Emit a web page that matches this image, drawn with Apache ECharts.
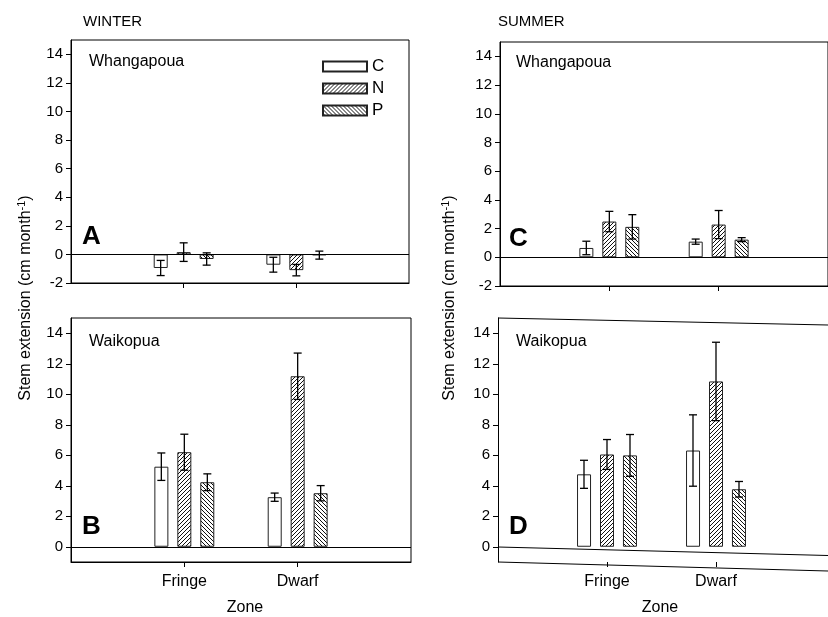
<!DOCTYPE html>
<html>
<head>
<meta charset="utf-8">
<script src="https://cdn.jsdelivr.net/npm/echarts@6/dist/echarts.min.js"></script>
<style>
    html, body { margin: 0; padding: 0; background: #fff; }
    #chart { width: 828px; height: 617px; }
</style>
</head>
<body>
<div id="chart"></div>
<script>
    const zones = ['Fringe', 'Dwarf']
    const treatments = ['C', 'N', 'P']
    const topTicks = [-2, 0, 2, 4, 6, 8, 10, 12, 14]
    const bottomTicks = [0, 2, 4, 6, 8, 10, 12, 14]

    // rows: C, N, P  -  columns: Fringe, Dwarf
    const winterWhangMean = [[-0.95, -0.72], [0.16, -1.1], [-0.32, -0.05]]
    const winterWhangErr = [[0.53, 0.52], [0.65, 0.4], [0.43, 0.28]]
    const winterWaikMean = [[5.25, 3.25], [6.2, 11.18], [4.23, 3.51]]
    const winterWaikErr = [[0.9, 0.27], [1.18, 1.52], [0.55, 0.5]]
    const summerWhangMean = [[0.65, 1.09], [2.49, 2.28], [2.12, 1.23]]
    const summerWhangErr = [[0.47, 0.18], [0.71, 0.98], [0.85, 0.14]]
    const summerWaikMean = [[4.75, 6.31], [6.05, 10.84], [5.99, 3.77]]
    const summerWaikErr = [[0.92, 2.34], [0.98, 2.57], [1.37, 0.51]]

    const font = '"Liberation Sans", Arial, sans-serif'

    // hatch fill for the N and P bars
    function hatch(dir) {
        let c = document.createElement('canvas')
        c.width = 4
        c.height = 4
        let g = c.getContext('2d')
        g.fillStyle = '#fff'
        g.fillRect(0, 0, 4, 4)
        g.strokeStyle = '#111'
        g.lineWidth = 1
        g.beginPath()
        if (dir > 0) {
            g.moveTo(-1, 5); g.lineTo(5, -1)
            g.moveTo(-1, 1); g.lineTo(1, -1)
            g.moveTo(3, 5); g.lineTo(5, 3)
        } else {
            g.moveTo(-1, -1); g.lineTo(5, 5)
            g.moveTo(3, -1); g.lineTo(5, 1)
            g.moveTo(-1, 3); g.lineTo(1, 5)
        }
        g.stroke()
        return { image: c, repeat: 'repeat' }
    }
    const fills = ['#fff', hatch(1), hatch(-1)]

    const panels = [
        { mean: winterWhangMean, err: winterWhangErr, min: -2, ticks: topTicks, labels: false, grid: { left: 71, top: 40, width: 338, height: 243 }, box: true },
        { mean: winterWaikMean, err: winterWaikErr, min: -1, ticks: bottomTicks, labels: true, grid: { left: 71, top: 318, width: 340, height: 244 }, box: true },
        { mean: summerWhangMean, err: summerWhangErr, min: -2, ticks: topTicks, labels: false, grid: { left: 500, top: 42, width: 340, height: 244 }, box: true },
        { mean: summerWaikMean, err: summerWaikErr, min: -1, ticks: bottomTicks, labels: true, grid: { left: 498, top: 318, width: 340, height: 244 }, box: false },
    ]

    const xCats = [''].concat(zones).concat([''])
    let grids = [], xAxes = [], yAxes = [], series = []

    panels.forEach((p, i) => {
        grids.push(Object.assign({
            show: p.box,
            borderColor: '#000',
            borderWidth: 1,
            backgroundColor: 'transparent',
        }, p.grid))
        xAxes.push({
            type: 'category',
            gridIndex: i,
            data: xCats,
            boundaryGap: false,
            axisLine: { show: p.box, onZero: false, lineStyle: { color: '#000' } },
            axisTick: {
                length: 5,
                lineStyle: { color: '#000' },
                interval: (idx) => idx === 1 || idx === 2,
            },
            axisLabel: {
                show: p.labels,
                color: '#000',
                fontSize: 16,
                fontFamily: font,
                margin: 12,
                interval: 0,
            },
            splitLine: { show: false },
        })
        yAxes.push({
            type: 'value',
            gridIndex: i,
            min: p.min,
            max: 15,
            axisLine: { show: true, lineStyle: { color: '#000' } },
            axisTick: { show: true, length: 5, customValues: p.ticks, lineStyle: { color: '#000' } },
            axisLabel: { color: '#000', fontSize: 15, fontFamily: font, margin: 8, customValues: p.ticks },
            splitLine: { show: false },
        })
        treatments.forEach((t, k) => {
            let s = {
                name: t,
                type: 'bar',
                xAxisIndex: i,
                yAxisIndex: i,
                barWidth: 14,
                barGap: '64%',
                data: ['-'].concat(p.mean[k]).concat(['-']),
                itemStyle: { color: fills[k], borderColor: '#222', borderWidth: 1 },
                emphasis: { disabled: true },
                silent: true,
            }
            if (k === 0 && p.box) {
                s.markLine = {
                    silent: true,
                    symbol: 'none',
                    label: { show: false },
                    lineStyle: { color: '#000', width: 1, type: 'solid' },
                    data: [{ yAxis: 0 }],
                }
            }
            series.push(s)
        })
        // error bars
        treatments.forEach((t, k) => {
            let errData = zones.map((z, j) => [j + 1, p.mean[k][j], p.err[k][j]])
            series.push({
                type: 'custom',
                xAxisIndex: i,
                yAxisIndex: i,
                silent: true,
                z: 5,
                encode: { x: 0, y: 1 },
                data: errData,
                renderItem: function (params, api) {
                    let hi = api.coord([api.value(0), api.value(1) + api.value(2)])
                    let lo = api.coord([api.value(0), api.value(1) - api.value(2)])
                    let cx = hi[0] + (k - 1) * 23
                    let st = { stroke: '#000', lineWidth: 1.3 }
                    return {
                        type: 'group',
                        children: [
                            { type: 'line', shape: { x1: cx, y1: hi[1], x2: cx, y2: lo[1] }, style: st },
                            { type: 'line', shape: { x1: cx - 4, y1: hi[1], x2: cx + 4, y2: hi[1] }, style: st },
                            { type: 'line', shape: { x1: cx - 4, y1: lo[1], x2: cx + 4, y2: lo[1] }, style: st },
                        ],
                    }
                },
            })
        })
    })

    function txt(x, y, text, size, extra) {
        return {
            type: 'text',
            x: x,
            y: y,
            silent: true,
            style: Object.assign({ text: text, fontSize: size, fontFamily: font, fill: '#000' }, extra || {}),
        }
    }

    function yName(x) {
        return {
            type: 'text',
            x: x,
            y: 298,
            rotation: Math.PI / 2,
            silent: true,
            style: {
                text: 'Stem extension (cm month{sup|-1})',
                fontSize: 16,
                fontFamily: font,
                fill: '#000',
                align: 'center',
                verticalAlign: 'middle',
                rich: { sup: { fontSize: 11, fontFamily: font, padding: [0, 0, 9, 0] } },
            },
        }
    }

    let option = {
        animation: false,
        backgroundColor: '#fff',
        legend: {
            data: treatments,
            orient: 'vertical',
            left: 317,
            top: 53,
            itemWidth: 44,
            itemHeight: 10,
            itemGap: 5,
            icon: 'rect',
            selectedMode: false,
            textStyle: { color: '#000', fontSize: 17, fontFamily: font },
        },
        grid: grids,
        xAxis: xAxes,
        yAxis: yAxes,
        series: series,
        graphic: [
            txt(83, 14, 'WINTER', 15),
            txt(498, 14, 'SUMMER', 15),
            txt(89, 54, 'Whangapoua', 16),
            txt(516, 55, 'Whangapoua', 16),
            txt(89, 334, 'Waikopua', 16),
            txt(516, 334, 'Waikopua', 16),
            txt(82, 224, 'A', 26, { fontWeight: 'bold' }),
            txt(82, 514, 'B', 26, { fontWeight: 'bold' }),
            txt(509, 226, 'C', 26, { fontWeight: 'bold' }),
            txt(509, 514, 'D', 26, { fontWeight: 'bold' }),
            txt(245, 600, 'Zone', 16, { align: 'center' }),
            txt(660, 600, 'Zone', 16, { align: 'center' }),
            yName(26),
            yName(450),
            // panel D frame, drawn skewed as in the scan
            { type: 'line', silent: true, shape: { x1: 498, y1: 318, x2: 828, y2: 325 }, style: { stroke: '#000', lineWidth: 1 } },
            { type: 'line', silent: true, shape: { x1: 498, y1: 547, x2: 828, y2: 555.5 }, style: { stroke: '#000', lineWidth: 1 } },
            { type: 'line', silent: true, shape: { x1: 498, y1: 562, x2: 828, y2: 571 }, style: { stroke: '#000', lineWidth: 1 } },
        ],
    }

    let myChart = echarts.init(document.getElementById('chart'))
    myChart.setOption(option)
</script>
</body>
</html>
